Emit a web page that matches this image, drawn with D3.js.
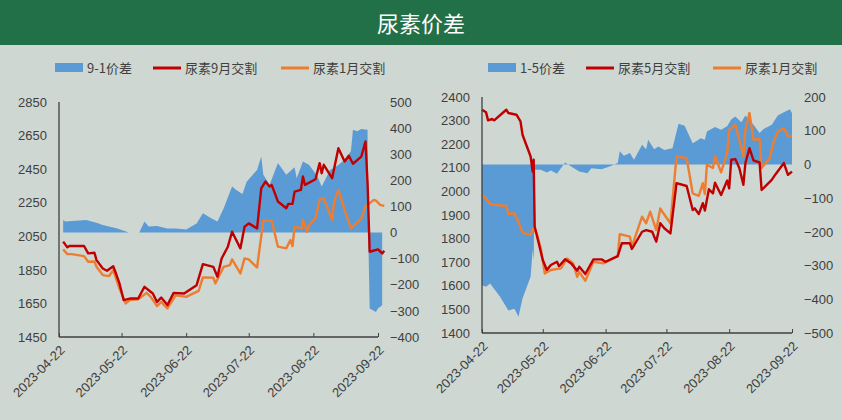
<!DOCTYPE html>
<html><head><meta charset="utf-8">
<script src="https://cdn.jsdelivr.net/npm/d3@7"></script>
<style>body{margin:0;background:#cfd7d2;}svg{display:block;font-family:"Noto Sans CJK SC","Noto Sans",sans-serif;}</style>
</head><body><svg id="c" width="842" height="420"></svg>
<script>
const title = "尿素价差";
const dateTicks = ["2023-04-22","2023-05-22","2023-06-22","2023-07-22","2023-08-22","2023-09-22"];
// Left panel (days since 2023-04-22)
const l_redDays = [2,4,5,12,14,17,18,21,23,26,27,29,31,34,38,41,45,47,49,52,55,60,66,69,74,76,78,81,83,87,89,91,95,97,99,101,102,105,109,110,112,113,116,117,118,123,125,126,127,131,134,137,139,141,145,147,148,149,153,155,156];
const l_red = [2018,1984,1992,1992,1948,1952,1908,1858,1845,1872,1839,1769,1670,1679,1679,1749,1709,1659,1685,1640,1713,1709,1759,1884,1868,1809,1918,1988,2077,1978,2107,2127,2097,2336,2376,2346,2356,2257,2217,2243,2243,2316,2326,2406,2356,2390,2486,2426,2476,2396,2575,2496,2530,2482,2525,2615,2366,1958,1972,1948,1964];
const l_oraDays = [2,4,6,12,14,17,18,21,24,26,29,32,34,38,42,44,47,49,52,56,61,67,69,74,75,79,82,83,87,89,91,95,98,102,105,109,111,112,113,116.5,117,119,120,123,125,127,131,132,134,137,140,145,147,151,152,154,156];
const l_ora = [1972,1944,1944,1932,1898,1900,1868,1819,1813,1848,1739,1650,1670,1674,1713,1689,1634,1659,1620,1699,1689,1725,1805,1803,1769,1868,1878,1912,1829,1918,1912,1864,2143,2143,1988,1978,2028,1992,2107,2097,2147,2077,2117,2157,2267,2277,2147,2257,2326,2207,2097,2157,2227,2267,2263,2237,2231];
const l_spDays = [2,3,13,18,21,28,33.5,38.5,41,43,47,52,56,61,66,69,73,76,79,83,85,88,90,95,97,98,101,105,109,113,114,117,120,124,126,130,134,137,140,141,143,145,148,148.3,149,152,153,155];
const l_sp = [48,42,48,38,29,16,0,0,42,23,25,16,16,12,35,74,55,42,93,176,163,148,195,240,291,221,183,266,221,250,208,272,259,215,176,240,259,279,311,394,388,397,394,0,-291,-304,-291,-278];
const l_gap = [34,38];
// Right panel
const r_redDays = [0,2,3,5,6,12,13,17,19,20,24,25,25.5,26,28,30,32,34,37,38,41,44,47,48,51,55,59,61,67,69,73,74,79,81,84,86,88,90,93,96,101,104,105,107,109,110,112,114,115,118,121,122,123,125,127,129,130,132,134,137,138,143,145,149,151,153];
const r_red = [2346,2335,2301,2307,2301,2346,2332,2325,2297,2240,2148,2084,2134,1851,1780,1709,1667,1688,1702,1683,1712,1695,1664,1681,1650,1712,1712,1702,1726,1780,1780,1756,1829,1836,1829,1787,1865,1844,1822,2035,2023,1921,1928,1904,1950,1919,2009,1992,2037,1985,2046,2013,2134,2137,2099,2028,2120,2183,2131,2123,2006,2049,2074,2120,2070,2084];
const r_oraDays = [0,2,4,6,12,13,16,18,20,24,25,27,29,31,34,39,42,45,47,48,51,55,60,67,68,73,74,79,81,83,86,88,89,93,96,101,104,107,109,110,111,114,115,118,121,122,125,127,129,130,132,134,137,138,142,144,146,149,151,153];
const r_ora = [1985,1971,1947,1943,1938,1904,1907,1872,1825,1815,1844,1822,1759,1652,1667,1674,1716,1695,1638,1659,1621,1702,1695,1726,1819,1808,1766,1893,1865,1914,1836,1928,1914,1865,2148,2141,1992,1981,2035,1989,2113,2099,2151,2081,2162,2261,2282,2219,2148,2261,2332,2219,2222,2099,2141,2212,2254,2268,2233,2236];
const r_spDays = [0,2,4,9,13,16,18,20,24,25,25.5,26,29,32,34,37,41,44,48,52,54,59,63,67,68,70,73,75,79,81,82,85,87,90,94,97,100,104,108,110,111,115,118,121,123,125,128,130,134,137,139,143,146,148,152,153];
const r_sp = [-358,-363,-353,-393,-433,-428,-452,-398,-333,-254,-284,-16,-16,-24,-18,-28,6,-6,-21,-26,-11,-14,-6,4,39,26,34,14,58,45,73,45,53,43,48,121,115,63,78,73,98,111,103,113,133,142,125,145,118,93,105,118,145,152,164,152];

const svg = d3.select("#c");
svg.append("rect").attr("width",842).attr("height",45).attr("fill","#227047");
svg.append("text").attr("x",421).attr("y",32).attr("text-anchor","middle").attr("fill","#fff").attr("font-size",22).text(title);

const base = new Date(2023,3,22);
const toDate = d => new Date(base.getTime()+d*864e5);
const ticksD = dateTicks.map(s=>d3.timeParse("%Y-%m-%d")(s));
const TXT = "#404040";

function panel(o){
  const x = d3.scaleTime().domain([ticksD[0],ticksD[5]]).range([o.x0,o.x1]);
  const yL = d3.scaleLinear().domain(o.lDom).range([o.y1,o.y0]);
  const yR = d3.scaleLinear().domain(o.rDom).range([o.y1,o.y0]);
  const g = svg.append("g");
  const pts = o.spDays.map((d,i)=>({d:toDate(d),v:o.sp[i],day:d}));
  const area = d3.area().x(p=>x(p.d)).y0(yR(0)).y1(p=>yR(p.v))
    .defined(p=>!(o.gap && p.day>o.gap[0] && p.day<o.gap[1]));
  g.append("path").datum(pts).attr("d",area).attr("fill","#5b9bd5");
  const line = d3.line().x(p=>x(p.d)).y(p=>yL(p.v));
  g.append("path").datum(o.oraDays.map((d,i)=>({d:toDate(d),v:o.ora[i]}))).attr("d",line)
    .attr("fill","none").attr("stroke","#ed7d31").attr("stroke-width",2.4).attr("stroke-linejoin","round");
  g.append("path").datum(o.redDays.map((d,i)=>({d:toDate(d),v:o.red[i]}))).attr("d",line)
    .attr("fill","none").attr("stroke","#c00000").attr("stroke-width",2.4).attr("stroke-linejoin","round");
  const ax = g.append("g").attr("transform",`translate(0,${o.y1})`)
    .call(d3.axisBottom(x).tickValues(ticksD).tickSize(-4).tickFormat(d3.timeFormat("%Y-%m-%d")));
  ax.select(".domain").attr("stroke","#404040").attr("stroke-width",1.3).attr("d",`M${o.x0},0H${o.x1}`);
  ax.selectAll(".tick line").attr("stroke","#404040");
  ax.selectAll("text").attr("fill",TXT).attr("font-size",13).attr("font-family","Liberation Sans, sans-serif")
    .attr("text-anchor","end").attr("y",0).attr("dy",0)
    .attr("transform","translate(6,14) rotate(-45)");
  const al = g.append("g").attr("transform",`translate(${o.x0},0)`)
    .call(d3.axisLeft(yL).tickValues(o.lTicks).tickSize(0).tickFormat(d3.format("d")));
  al.select(".domain").attr("stroke","#404040").attr("stroke-width",1.3).attr("d",`M0,${o.y0}V${o.y1}`);
  al.selectAll("text").attr("fill",TXT).attr("font-size",13).attr("font-family","Liberation Sans, sans-serif").attr("x",-12);
  const ar = g.append("g").attr("transform",`translate(${o.x1},0)`)
    .call(d3.axisRight(yR).tickValues(o.rTicks).tickSize(0).tickFormat(d3.format("d")));
  ar.select(".domain").remove();
  ar.selectAll("text").attr("fill",TXT).attr("font-size",13).attr("font-family","Liberation Sans, sans-serif").attr("x",o.rx);
  const lg = g.append("g").attr("font-size",13);
  const L = o.leg;
  lg.append("rect").attr("x",L[0]).attr("y",63).attr("width",28).attr("height",9).attr("fill","#5b9bd5");
  lg.append("text").attr("x",L[0]+32).attr("y",73).attr("fill",TXT).text(o.names[0]);
  lg.append("line").attr("x1",L[1]).attr("x2",L[1]+28).attr("y1",68).attr("y2",68).attr("stroke","#c00000").attr("stroke-width",3);
  lg.append("text").attr("x",L[1]+32).attr("y",73).attr("fill",TXT).text(o.names[1]);
  lg.append("line").attr("x1",L[2]).attr("x2",L[2]+28).attr("y1",68).attr("y2",68).attr("stroke","#ed7d31").attr("stroke-width",3);
  lg.append("text").attr("x",L[2]+32).attr("y",73).attr("fill",TXT).text(o.names[2]);
}
panel({x0:59,x1:378,y0:102,y1:337,lDom:[1450,2850],rDom:[-400,500],
  lTicks:[1450,1650,1850,2050,2250,2450,2650,2850],rTicks:[-400,-300,-200,-100,0,100,200,300,400,500],rx:12,
  redDays:l_redDays,red:l_red,oraDays:l_oraDays,ora:l_ora,spDays:l_spDays,sp:l_sp,gap:l_gap,
  leg:[55,153,281],names:["9-1价差","尿素9月交割","尿素1月交割"]});
panel({x0:482,x1:792,y0:97,y1:333,lDom:[1400,2400],rDom:[-500,200],
  lTicks:[1400,1500,1600,1700,1800,1900,2000,2100,2200,2300,2400],rTicks:[-500,-400,-300,-200,-100,0,100,200],rx:12,
  redDays:r_redDays,red:r_red,oraDays:r_oraDays,ora:r_ora,spDays:r_spDays,sp:r_sp,
  leg:[488,586,713],names:["1-5价差","尿素5月交割","尿素1月交割"]});
</script></body></html>
